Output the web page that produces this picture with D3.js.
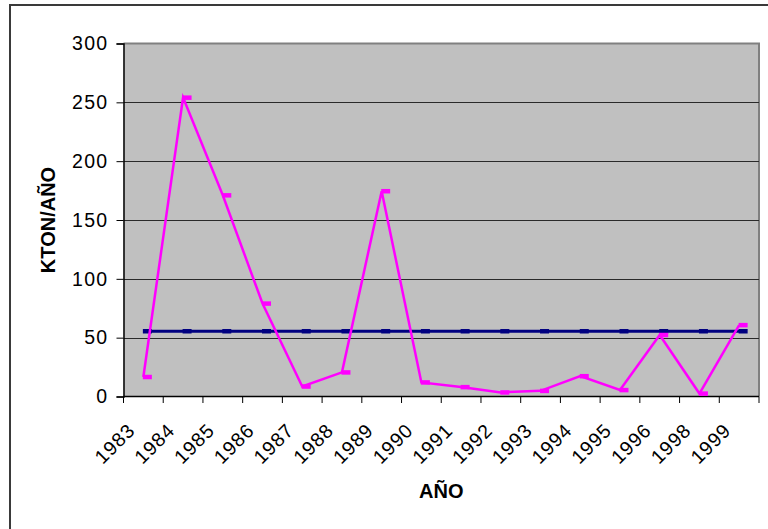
<!DOCTYPE html>
<html>
<head>
<meta charset="utf-8">
<script src="https://cdn.jsdelivr.net/npm/d3@7/dist/d3.min.js"></script>
<style>
  html, body { margin: 0; padding: 0; background: #ffffff; }
  svg { display: block; font-family: "Liberation Sans", Arial, sans-serif; }
</style>
</head>
<body>
<svg id="chart" width="768" height="529"></svg>
<script>
// Annual tonnage (kton/año) and its reference level
const years = ["1983","1984","1985","1986","1987","1988","1989","1990","1991","1992","1993","1994","1995","1996","1998","1999"];
const ktonValues = [16.6, 254, 171, 79, 8.5, 20.5, 174.5, 12, 8, 3.5, 4.8, 17.3, 5.5, 52.3, 2.5, 60.7];
const referenceValues = [55.5, 55.5, 55.5, 55.5, 55.5, 55.5, 55.5, 55.5, 55.5, 55.5, 55.5, 55.5, 55.5, 55.5, 55.5, 55.5];
const yTicks = [0, 50, 100, 150, 200, 250, 300];

const svg = d3.select("#chart");

const plot = { left: 123.5, right: 759, top: 43.5, bottom: 396.5 };

const x = d3.scaleBand().domain(years).range([plot.left, plot.right]).padding(0);
const y = d3.scaleLinear().domain([0, 300]).range([plot.bottom, plot.top]);
const cx = d => x(d) + x.bandwidth() / 2;

// Outer chart frame
svg.append("rect")
  .attr("x", 10).attr("y", 5)
  .attr("width", 780).attr("height", 540)
  .attr("fill", "#ffffff")
  .attr("stroke", "#3a3a3a").attr("stroke-width", 2);

// Plot background
svg.append("rect")
  .attr("x", plot.left).attr("y", plot.top)
  .attr("width", plot.right - plot.left).attr("height", plot.bottom - plot.top)
  .attr("fill", "#c0c0c0");

// Plot border (top and right)
svg.append("path")
  .attr("d", `M${plot.left},${plot.top}H${plot.right}V${plot.bottom}`)
  .attr("fill", "none").attr("stroke", "#808080").attr("stroke-width", 2);

// Horizontal gridlines
svg.append("g")
  .selectAll("line")
  .data(yTicks.filter(t => t > 0 && t < 300))
  .join("line")
  .attr("x1", plot.left).attr("x2", plot.right)
  .attr("y1", d => Math.round(y(d)) + 0.5).attr("y2", d => Math.round(y(d)) + 0.5)
  .attr("stroke", "#2a2a2a").attr("stroke-width", 1);

// Y axis
const yAxis = svg.append("g")
  .attr("transform", `translate(${plot.left},0)`)
  .call(d3.axisLeft(y).tickValues(yTicks).tickSize(7).tickPadding(8).tickFormat(d3.format("d")));
yAxis.select(".domain").attr("stroke", "#000").attr("stroke-width", 1.5);
yAxis.selectAll(".tick line").attr("stroke", "#000");
yAxis.selectAll(".tick text")
  .attr("font-size", 19.5).attr("fill", "#000")
  .attr("letter-spacing", 1.3)
  .attr("font-family", "'Liberation Sans', Arial, sans-serif");

// X axis: ticks at category boundaries
const xAxisG = svg.append("g").attr("transform", `translate(0,${plot.bottom})`);
xAxisG.append("line")
  .attr("x1", plot.left).attr("x2", plot.right)
  .attr("y1", 0).attr("y2", 0)
  .attr("stroke", "#000").attr("stroke-width", 1.5);
const boundaries = years.map(d => x(d)).concat([plot.right]);
xAxisG.selectAll(".bound")
  .data(boundaries)
  .join("line")
  .attr("class", "bound")
  .attr("x1", d => d).attr("x2", d => d)
  .attr("y1", 0).attr("y2", 6.5)
  .attr("stroke", "#000").attr("stroke-width", 1);
xAxisG.selectAll(".yl")
  .data(years)
  .join("text")
  .attr("class", "yl")
  .attr("transform", d => `translate(${cx(d) - 7},${35}) rotate(-45)`)
  .attr("text-anchor", "end")
  .attr("font-size", 19.5)
  .attr("letter-spacing", 1)
  .attr("fill", "#000")
  .text(d => d);

// Axis titles
svg.append("text")
  .attr("x", (plot.left + plot.right) / 2).attr("y", 498)
  .attr("text-anchor", "middle")
  .attr("font-size", 20).attr("font-weight", "bold")
  .text("AÑO");
svg.append("text")
  .attr("transform", `translate(54.5,${(plot.top + plot.bottom) / 2}) rotate(-90)`)
  .attr("text-anchor", "middle")
  .attr("font-size", 20).attr("font-weight", "bold")
  .text("KTON/AÑO");

// Series
const series = [
  { values: referenceValues, color: "#000080", width: 3 },
  { values: ktonValues, color: "#ff00ff", width: 2.5 }
];
const line = d3.line().x(d => cx(d.year)).y(d => y(d.value));

series.forEach(s => {
  const pts = years.map((yr, i) => ({ year: yr, value: s.values[i] }));
  svg.append("path")
    .datum(pts)
    .attr("d", line)
    .attr("fill", "none")
    .attr("stroke", s.color)
    .attr("stroke-width", s.width)
    .attr("stroke-linejoin", "miter");
  svg.append("g")
    .selectAll("rect")
    .data(pts)
    .join("rect")
    .attr("x", d => cx(d.year) - 0.5)
    .attr("y", d => y(d.value) - 2.2)
    .attr("width", 9)
    .attr("height", 4.5)
    .attr("fill", s.color);
});
</script>
</body>
</html>
